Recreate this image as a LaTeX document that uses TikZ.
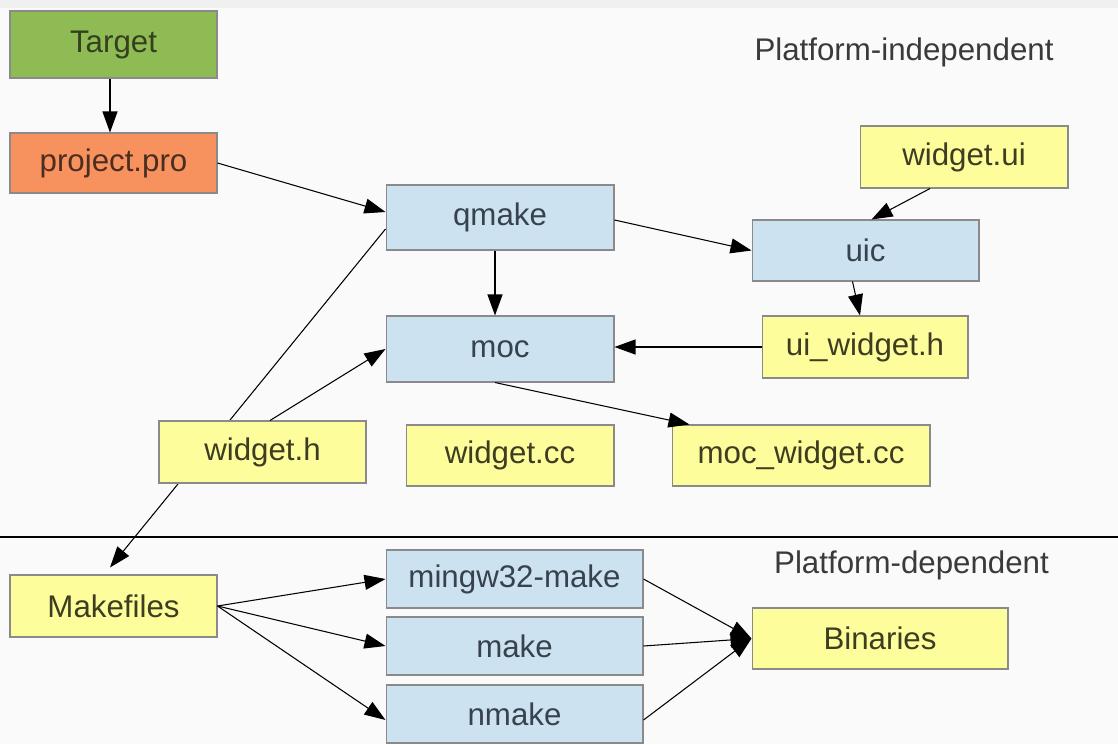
\documentclass[tikz,border=0pt]{standalone}
\usepackage{fontspec}
\setmainfont{Liberation Sans}
\usepackage{tikz}
\usetikzlibrary{arrows.meta, positioning, calc, backgrounds}

\definecolor{tgtgreen}{HTML}{8FBB55}
\definecolor{proorange}{HTML}{F7925E}
\definecolor{toolblue}{HTML}{CCE2F1}
\definecolor{fileyellow}{HTML}{FDFD9C}
\definecolor{boxline}{HTML}{8A8A8A}
\definecolor{bgpage}{HTML}{FAFAFA}
\definecolor{bgstrip}{HTML}{F0F0F0}
\definecolor{tgttext}{HTML}{34401F}
\definecolor{protext}{HTML}{4A2E22}
\definecolor{tooltext}{HTML}{37424D}
\definecolor{filetext}{HTML}{3E3D22}
\definecolor{plattext}{HTML}{3A3A3A}

\begin{document}
\begin{tikzpicture}[
        x=0.02cm, y=-0.02cm,
        box/.style={rectangle, draw=boxline, line width=0.6pt, inner sep=0pt, align=center, font=\fontsize{17.8}{21}\selectfont},
        tgt/.style={box, fill=tgtgreen, text=tgttext},
        pro/.style={box, fill=proorange, text=protext},
        tool/.style={box, fill=toolblue, text=tooltext},
        file/.style={box, fill=fileyellow, text=filetext},
        plat/.style={font=\fontsize{17.8}{21}\selectfont, text=plattext},
        arr/.style={-{Triangle[length=0.42cm, width=0.3cm]}, line width=0.6pt}
    ]
        \useasboundingbox (0,0) rectangle (1118,744);
        \begin{scope}[on background layer]
            \fill[bgpage] (0,0) rectangle (1118,744);
            \fill[bgstrip] (0,0) rectangle (1118,8);
        \end{scope}

        % Platform-independent part
        \node[tgt, minimum width=4.14cm, minimum height=1.34cm] (target) at (113.5,44.5) {Target};
        \node[pro, minimum width=4.14cm, minimum height=1.2cm] (project) at (113.5,163) {project.pro};
        \node[tool, minimum width=4.56cm, minimum height=1.3cm] (qmake) at (500,217.5) {qmake};
        \node[tool, minimum width=4.56cm, minimum height=1.32cm] (moc) at (500,349) {moc};
        \node[file, minimum width=4.16cm, minimum height=1.24cm] (widgetui) at (964,157) {widget.ui};
        \node[tool, minimum width=4.54cm, minimum height=1.22cm] (uic) at (865.5,250.5) {uic};
        \node[file, minimum width=4.12cm, minimum height=1.24cm] (uiwidgeth) at (865,347) {ui\_widget.h};
        \node[file, minimum width=4.14cm, minimum height=1.24cm] (widgeth) at (262.5,452) {widget.h};
        \node[file, minimum width=4.16cm, minimum height=1.22cm] (widgetcc) at (510,455.5) {widget.cc};
        \node[file, minimum width=5.16cm, minimum height=1.22cm] (mocwidgetcc) at (801,455.5) {moc\_widget.cc};
        \node[plat] (indep) at (904,52) {Platform-independent};

        % Platform-dependent part
        \node[file, minimum width=4.14cm, minimum height=1.24cm] (makefiles) at (113.5,606) {Makefiles};
        \node[tool, minimum width=5.14cm, minimum height=1.16cm] (mingw) at (514.5,579) {mingw32-make};
        \node[tool, minimum width=5.14cm, minimum height=1.16cm] (make) at (514.5,646) {make};
        \node[tool, minimum width=5.14cm, minimum height=1.16cm] (nmake) at (514.5,714) {nmake};
        \node[file, minimum width=5.12cm, minimum height=1.22cm] (binaries) at (880,638.5) {Binaries};
        \node[plat] (dep) at (911.5,565) {Platform-dependent};

        % Divider
        \draw[line width=0.6pt] (0,537) -- (1118,537);

        % qmake -> Makefiles runs under widget.h
        \begin{scope}[on background layer]
            \draw[arr] ([yshift=-0.23cm]qmake.west) -- ([xshift=-0.07cm,yshift=0.14cm]makefiles.north);
        \end{scope}

        \draw[arr] ([xshift=-0.07cm]target.south) -- ([xshift=-0.07cm]project.north);
        \draw[arr] (project.east) -- ([yshift=0.11cm]qmake.west);
        \draw[arr] ([xshift=0.15cm]widgeth.north) -- (moc.west);
        \draw[arr] ([xshift=-0.1cm]qmake.south) -- ([xshift=-0.1cm]moc.north);
        \draw[arr] ([yshift=-0.05cm]qmake.east) -- (uic.west);
        \draw[arr] ([xshift=-0.68cm]widgetui.south) -- ([xshift=0.12cm]uic.north);
        \draw[arr] ([xshift=-0.26cm]uic.south) -- ([xshift=-0.1cm]uiwidgeth.north);
        \draw[arr] (uiwidgeth.west) -- (uiwidgeth.west -| moc.east);
        \draw[arr] ([xshift=-0.1cm]moc.south) -- ([xshift=0.36cm]mocwidgetcc.north west);

        % Makefiles -> make tools -> Binaries
        \draw[arr] (makefiles.east) -- (mingw.west);
        \draw[arr] (makefiles.east) -- (make.west);
        \draw[arr] (makefiles.east) -- ([yshift=-0.12cm]nmake.west);
        \draw[arr] (mingw.east) -- (binaries.west);
        \draw[arr] (make.east) -- (binaries.west);
        \draw[arr] ([yshift=-0.12cm]nmake.east) -- (binaries.west);
    \end{tikzpicture}
\end{document}
